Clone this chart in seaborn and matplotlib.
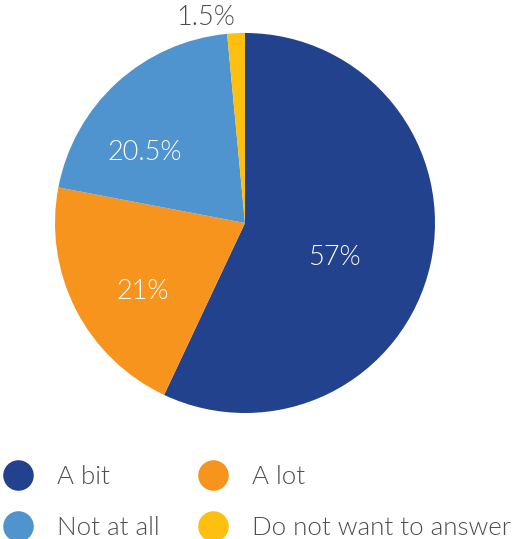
import numpy as np
import matplotlib
matplotlib.use("Agg")
import matplotlib.pyplot as plt
from matplotlib.lines import Line2D
import seaborn as sns

# data
categories = ["A bit", "A lot", "Not at all", "Do not want to answer"]
values = [57, 21, 20.5, 1.5]
pct_labels = ["57%", "21%", "20.5%", "1.5%"]
colors = ["#23428e", "#f7941e", "#5094cf", "#fdc010"]

sns.set_style("white")
plt.rcParams["font.family"] = ["Lato", "DejaVu Sans"]

fig = plt.figure(figsize=(5.15, 5.39), dpi=100)
ax = fig.add_axes([55 / 515, (539 - 413) / 539, 380 / 515, 380 / 539])

wedges, texts = ax.pie(values, colors=colors, startangle=90, counterclock=False,
                       radius=1, wedgeprops=dict(linewidth=0))
ax.set_xlim(-1, 1)
ax.set_ylim(-1, 1)
ax.axis("off")

# label positions (fraction of radius) and colours
label_pos = [(0.47, -0.18), (-0.54, -0.36), (-0.53, 0.37), (-0.205, 1.084)]
label_col = ["white", "white", "white", "#4d4d4d"]
for (x, y), t, c in zip(label_pos, pct_labels, label_col):
    ax.text(x, y, t, ha="center", va="center", fontsize=19.5, color=c,
            fontweight=300, clip_on=False)

order = [0, 2, 1, 3]
handles = [Line2D([], [], marker="o", linestyle="", markersize=22,
                  markerfacecolor=colors[i], markeredgewidth=0) for i in order]
fig.legend(handles, [categories[i] for i in order], ncol=2, frameon=False,
           loc="upper left", bbox_to_anchor=(-0.015, 0.156),
           prop=dict(size=18.6, weight=300), labelcolor="#4d4d4d",
           handlelength=1.2, handletextpad=0.91, columnspacing=1.45,
           labelspacing=1.02, borderaxespad=0)

fig.savefig("out.png", dpi=100)
